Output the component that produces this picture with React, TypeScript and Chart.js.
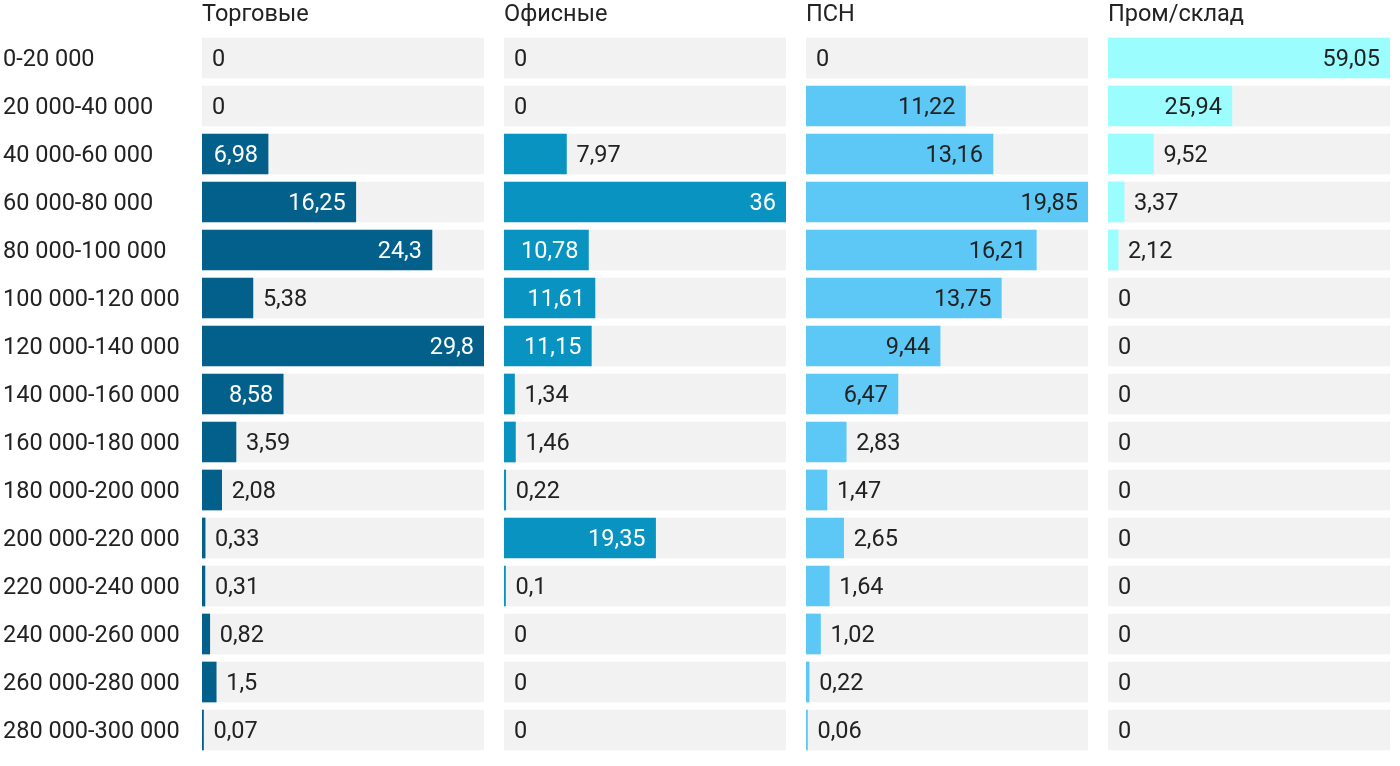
import React, { useEffect, useRef } from "react";
import { Chart, registerables } from "chart.js";

Chart.register(...registerables);

const categories = [
  "0-20 000",
  "20 000-40 000",
  "40 000-60 000",
  "60 000-80 000",
  "80 000-100 000",
  "100 000-120 000",
  "120 000-140 000",
  "140 000-160 000",
  "160 000-180 000",
  "180 000-200 000",
  "200 000-220 000",
  "220 000-240 000",
  "240 000-260 000",
  "260 000-280 000",
  "280 000-300 000",
];

const trade = [0, 0, 6.98, 16.25, 24.3, 5.38, 29.8, 8.58, 3.59, 2.08, 0.33, 0.31, 0.82, 1.5, 0.07];
const office = [0, 0, 7.97, 36, 10.78, 11.61, 11.15, 1.34, 1.46, 0.22, 19.35, 0.1, 0, 0, 0];
const psn = [0, 11.22, 13.16, 19.85, 16.21, 13.75, 9.44, 6.47, 2.83, 1.47, 2.65, 1.64, 1.02, 0.22, 0.06];
const industrial = [59.05, 25.94, 9.52, 3.37, 2.12, 0, 0, 0, 0, 0, 0, 0, 0, 0, 0];

const panelTitles = ["Торговые", "Офисные", "ПСН", "Пром/склад"];
const panelValues = [trade, office, psn, industrial];
const panelColors = ["#02608a", "#0893c0", "#5dc8f5", "#9bfdfd"];
const insideTextColors = ["#ffffff", "#ffffff", "#222222", "#222222"];

const FONT = "Roboto";
const FSIZE = 23.5;
const TEXT = "#222222";
const fmt = (v: number) => String(v).replace(".", ",");

type PanelProps = { index: number; withAxis: boolean };

function Panel({ index, withAxis }: PanelProps) {
  const ref = useRef<HTMLCanvasElement | null>(null);
  const width = withAxis ? 484 : 282;
  const left = withAxis ? 0 : 202 + index * 302;

  useEffect(() => {
    const values = panelValues[index];
    const max = Math.max(...values);
    const title = panelTitles[index];
    const insideColor = insideTextColors[index];

    const labelPlugin = {
      id: "labels" + index,
      afterDatasetsDraw(chart: any) {
        const ctx = chart.ctx;
        const meta = chart.getDatasetMeta(1);
        ctx.save();
        ctx.font = `${FSIZE}px ${FONT}`;
        ctx.textBaseline = "middle";
        meta.data.forEach((bar: any, i: number) => {
          const v = values[i];
          const txt = fmt(v);
          const xScale = chart.scales.x;
          const base = xScale.getPixelForValue(0);
          const end = v === 0 ? base : bar.x;
          const w = end - base;
          const y = chart.scales.y.getPixelForValue(i);
          if (w >= 64) {
            ctx.fillStyle = insideColor;
            ctx.textAlign = "right";
            ctx.fillText(txt, end - 10, y + 2);
          } else {
            ctx.fillStyle = TEXT;
            ctx.textAlign = "left";
            ctx.fillText(txt, end + 10, y + 2);
          }
        });
        ctx.fillStyle = TEXT;
        ctx.textAlign = "left";
        ctx.fillText(title, chart.chartArea.left, 15);
        ctx.restore();
      },
    };

    const yScale: any = {
      display: withAxis,
      grid: { display: false },
      border: { display: false },
      ticks: {
        color: TEXT,
        font: { family: FONT, size: FSIZE },
        crossAlign: "far",
        padding: 0,
        labelOffset: 2,
      },
    };
    if (withAxis) {
      yScale.afterFit = (scale: any) => {
        scale.width = 199;
        scale.paddingTop = 0;
        scale.paddingBottom = 0;
      };
    }

    const chart = new Chart(ref.current as HTMLCanvasElement, {
      type: "bar",
      data: {
        labels: categories,
        datasets: [
          {
            data: categories.map(() => max),
            backgroundColor: "#f2f2f2",
            barThickness: 40,
            grouped: false,
            order: 2,
          } as any,
          {
            data: values.map((v) => (v === 0 ? null : v)),
            backgroundColor: panelColors[index],
            barThickness: 40,
            grouped: false,
            minBarLength: 1.5,
            order: 1,
          } as any,
        ],
      },
      options: {
        indexAxis: "y",
        responsive: false,
        animation: false,
        layout: { padding: { top: 34, bottom: 12, left: withAxis ? 3 : 0, right: 0 } },
        plugins: { legend: { display: false }, tooltip: { enabled: false }, title: { display: false } },
        scales: {
          x: { display: false, min: 0, max: max },
          y: yScale,
        },
      },
      plugins: [labelPlugin],
    } as any);
    return () => chart.destroy();
  }, [index, withAxis]);

  return (
    <div style={{ position: "absolute", left, top: 0, width, height: 766 }}>
      <canvas ref={ref} width={width} height={766} style={{ width, height: 766 }} />
    </div>
  );
}

export default function App() {
  return (
    <div style={{ position: "absolute", left: 0, top: 0, width: 1400, height: 766, background: "#fff", fontFamily: FONT }}>
      <Panel index={0} withAxis={true} />
      <Panel index={1} withAxis={false} />
      <Panel index={2} withAxis={false} />
      <Panel index={3} withAxis={false} />
    </div>
  );
}
